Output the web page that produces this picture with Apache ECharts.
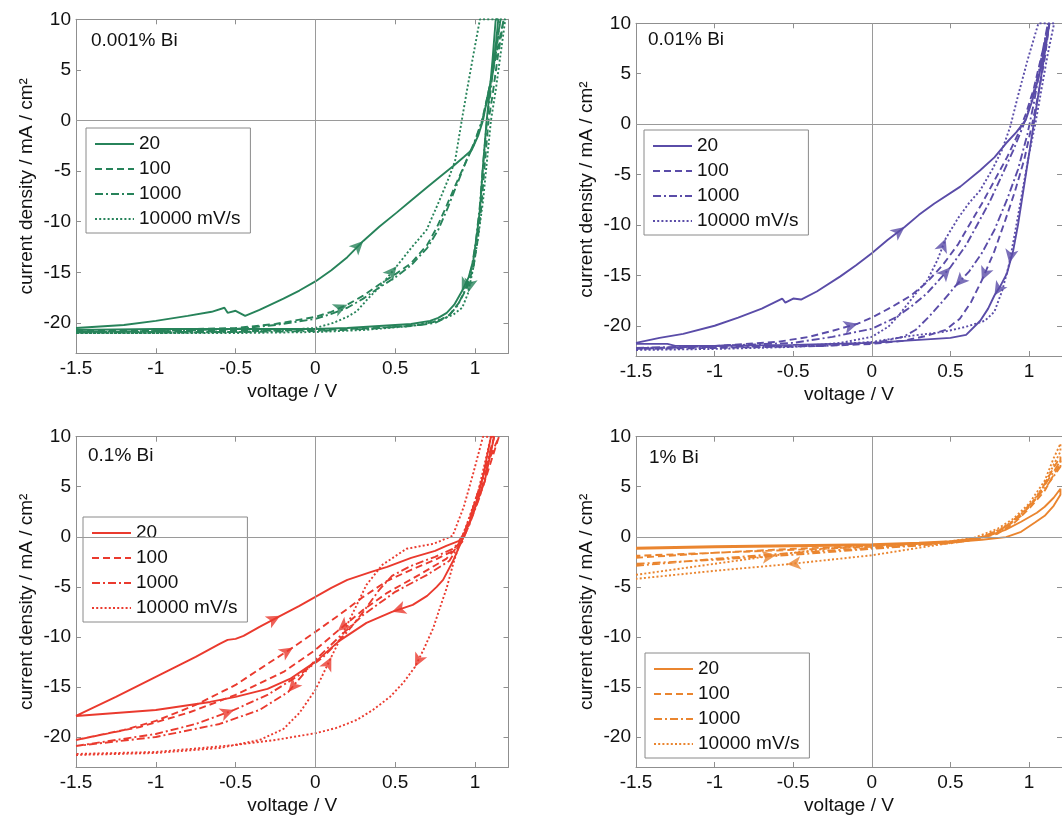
<!DOCTYPE html>
<html><head><meta charset="utf-8">
<script src="https://cdn.jsdelivr.net/npm/echarts@6/dist/echarts.min.js"></script>
<style>html,body{margin:0;padding:0;background:#fff}#c{width:1062px;height:816px}</style>
</head><body><div id="c"></div>
<script>
// ---------- tick labels / categories ----------
const xTicks = [-1.5, -1, -0.5, 0, 0.5, 1];
const yTicks = [-20, -15, -10, -5, 0, 5, 10];
const rateLabels = ['20', '100', '1000', '10000 mV/s'];
const rateKeys = ['20', '100', '1000', '10000'];
const panelLabels = ['0.001% Bi', '0.01% Bi', '0.1% Bi', '1% Bi'];

// ---------- panel 1: 0.001% Bi ----------
const a_20_f = [[-1.5,-20.5],[-1.3,-20.3],[-1.2,-20.2],[-1.0,-19.8],[-0.8,-19.3],[-0.65,-18.9],[-0.57,-18.5],[-0.55,-19.0],[-0.5,-18.8],[-0.44,-19.3],[-0.35,-18.7],[-0.2,-17.6],[-0.1,-16.8],[0,-15.9],[0.1,-14.8],[0.2,-13.5],[0.3,-11.9],[0.4,-10.5],[0.509,-9.1],[0.6,-7.9],[0.7,-6.6],[0.8,-5.3],[0.864,-4.5],[0.93,-3.6],[0.98,-2.9],[1.02,-1.5],[1.05,0],[1.08,2.5],[1.115,5],[1.146,10]];
const a_20_r = [[1.13,10],[1.11,6],[1.09,2.5],[1.073,0],[1.05,-4.5],[1.031,-8.8],[1.01,-11.5],[0.99,-13.75],[0.96,-15.5],[0.917,-16.9],[0.87,-18.2],[0.823,-19.0],[0.77,-19.5],[0.718,-19.8],[0.6,-20.1],[0.4,-20.3],[0.2,-20.5],[0,-20.6],[-0.5,-20.6],[-1.0,-20.6],[-1.5,-20.7]];
const a_100_f = [[-1.5,-20.8],[-1.0,-20.7],[-0.5,-20.5],[-0.25,-20.1],[0,-19.4],[0.1,-18.9],[0.2,-18.2],[0.3,-17.3],[0.4,-16.2],[0.5,-15.2],[0.6,-14.1],[0.7,-12.3],[0.76,-10.6],[0.82,-8.5],[0.88,-6.3],[0.94,-4.2],[0.99,-2.5],[1.04,-0.3],[1.08,2.5],[1.12,5.5],[1.16,8.5],[1.18,10]];
const a_100_r = [[1.18,10],[1.14,6],[1.11,2.5],[1.085,0],[1.06,-4.5],[1.04,-8.5],[1.015,-12],[0.99,-14.5],[0.95,-16.5],[0.9,-18.0],[0.84,-19.2],[0.77,-19.8],[0.65,-20.2],[0.4,-20.5],[0,-20.7],[-0.5,-20.8],[-1.0,-20.8],[-1.5,-20.8]];
const a_1000_f = [[-1.5,-20.9],[-1.0,-20.8],[-0.5,-20.6],[-0.25,-20.2],[0,-19.6],[0.1,-19.1],[0.2,-18.5],[0.3,-17.6],[0.4,-16.5],[0.5,-15.5],[0.6,-14.3],[0.7,-12.6],[0.77,-10.8],[0.83,-8.6],[0.89,-6.2],[0.95,-3.8],[1.0,-2.0],[1.05,0.3],[1.09,3],[1.13,6.5],[1.16,10]];
const a_1000_r = [[1.16,10],[1.12,6],[1.095,2.5],[1.075,0],[1.05,-4.5],[1.03,-8.5],[1.005,-12],[0.98,-14.5],[0.94,-16.7],[0.89,-18.3],[0.83,-19.4],[0.75,-20.0],[0.6,-20.3],[0.3,-20.6],[0,-20.8],[-0.5,-20.9],[-1.0,-20.9],[-1.5,-20.9]];
const a_10000_f = [[-1.5,-21.0],[-1.0,-21.0],[-0.5,-20.9],[-0.2,-20.7],[0,-20.5],[0.112,-20.0],[0.2,-19.4],[0.259,-18.85],[0.33,-17.6],[0.405,-16.4],[0.509,-14.4],[0.6,-12.6],[0.697,-10.8],[0.78,-7.8],[0.84,-5.5],[0.875,-4.0],[0.917,0],[0.95,3],[0.99,6.5],[1.031,10]];
const a_10000_r = [[1.19,10],[1.16,6.5],[1.13,3],[1.1,0],[1.075,-4],[1.05,-8],[1.02,-11.5],[0.99,-14.5],[0.958,-17.0],[0.92,-18.5],[0.862,-19.2],[0.76,-19.8],[0.6,-20.3],[0.3,-20.7],[0,-20.9],[-0.5,-21.0],[-1.0,-21.0],[-1.5,-21.0]];
const a_arrows = [['20','f',0.30,-11.9],['100','f',0.2,-18.2],['10000','f',0.509,-14.4],['20','r',0.917,-16.9],['10000','r',0.958,-17.0]];

// ---------- panel 2: 0.01% Bi ----------
const b_20_f = [[-1.5,-21.7],[-1.35,-21.2],[-1.2,-20.8],[-1.0,-20.0],[-0.85,-19.2],[-0.7,-18.3],[-0.57,-17.3],[-0.55,-17.7],[-0.5,-17.3],[-0.45,-17.4],[-0.35,-16.6],[-0.2,-15.1],[-0.1,-14.0],[0,-12.8],[0.1,-11.5],[0.209,-10.2],[0.3,-9.0],[0.396,-7.9],[0.563,-6.2],[0.688,-4.6],[0.78,-3.3],[0.854,-1.9],[0.92,-0.8],[0.979,0.4],[1.02,2.3],[1.062,4.7],[1.095,7.2],[1.13,10]];
const b_20_r = [[1.13,10],[1.1,7],[1.07,4],[1.04,1],[1.01,-2],[0.97,-6],[0.93,-10],[0.9,-12.5],[0.86,-14.8],[0.82,-16.0],[0.78,-17.0],[0.74,-18.3],[0.69,-19.5],[0.6,-20.9],[0.5,-21.2],[0.3,-21.4],[0,-21.7],[-0.5,-21.9],[-1.0,-22.0],[-1.25,-22.0],[-1.3,-21.8],[-1.5,-21.8]];
const b_100_f = [[-1.5,-22.3],[-1.0,-22.0],[-0.6,-21.6],[-0.4,-21.1],[-0.25,-20.5],[-0.09,-19.8],[0,-19.2],[0.12,-18.2],[0.25,-17.0],[0.35,-15.7],[0.45,-14.0],[0.55,-11.9],[0.62,-10.0],[0.7,-7.9],[0.78,-5.6],[0.86,-3.3],[0.93,-1.0],[0.98,1],[1.03,3.5],[1.08,6.8],[1.13,10]];
const b_100_r = [[1.14,10],[1.1,6.5],[1.06,3],[1.02,0],[0.97,-3.5],[0.91,-6.7],[0.85,-9.5],[0.78,-12.6],[0.7,-15.5],[0.63,-17.7],[0.56,-19.3],[0.47,-20.4],[0.35,-21.0],[0.2,-21.5],[0,-21.8],[-0.3,-22.0],[-1.0,-22.2],[-1.5,-22.3]];
const b_1000_f = [[-1.5,-22.2],[-1.0,-22.0],[-0.5,-21.7],[-0.25,-21.1],[0,-20.3],[0.15,-19.2],[0.25,-18.1],[0.35,-16.8],[0.5,-14.2],[0.6,-12.0],[0.67,-10.0],[0.75,-7.7],[0.83,-5.0],[0.9,-2.6],[0.96,-0.3],[1.01,2],[1.06,5],[1.12,10]];
const b_1000_r = [[1.12,10],[1.07,5.5],[1.03,2],[0.99,-1],[0.93,-4.5],[0.86,-7.5],[0.78,-10.5],[0.7,-12.8],[0.62,-14.6],[0.53,-16.1],[0.45,-17.6],[0.37,-19.0],[0.28,-20.4],[0.2,-21.1],[0.05,-21.6],[-0.3,-22.0],[-1.0,-22.1],[-1.5,-22.2]];
const b_10000_f = [[-1.5,-22.4],[-1.0,-22.3],[-0.5,-22.1],[-0.2,-21.7],[0,-21.1],[0.105,-20.1],[0.17,-19.0],[0.23,-17.8],[0.29,-16.6],[0.353,-15.5],[0.42,-13.4],[0.47,-11.35],[0.55,-9.3],[0.62,-7.8],[0.688,-6.6],[0.77,-4.4],[0.83,-2.5],[0.88,-0.3],[0.93,2.8],[0.99,6.3],[1.06,10]];
const b_10000_r = [[1.16,10],[1.12,7],[1.08,3.5],[1.04,0],[1.0,-3],[0.96,-6.5],[0.92,-10],[0.875,-13.8],[0.83,-16.5],[0.78,-18.6],[0.72,-19.5],[0.6,-20.1],[0.459,-20.6],[0.25,-21.0],[0,-21.6],[-0.5,-22.1],[-1.0,-22.3],[-1.5,-22.4]];
const b_arrows = [['20','f',0.209,-10.2],['100','f',-0.09,-19.8],['1000','f',0.5,-14.2],['10000','f',0.47,-11.35],['20','r',0.78,-17.0],['100','r',0.70,-15.5],['1000','r',0.53,-16.1],['10000','r',0.875,-13.8]];

// ---------- panel 3: 0.1% Bi ----------
const c_20_f = [[-1.5,-17.9],[-1.25,-16.0],[-1.0,-14.0],[-0.75,-12.0],[-0.6,-10.7],[-0.55,-10.3],[-0.5,-10.2],[-0.45,-9.9],[-0.35,-9.0],[-0.22,-7.9],[-0.1,-6.9],[0,-6.0],[0.1,-5.1],[0.2,-4.3],[0.35,-3.5],[0.45,-3.0],[0.6,-2.1],[0.75,-1.4],[0.82,-0.9],[0.9,-0.4],[0.95,0.8],[1.0,3],[1.05,6],[1.1,10]];
const c_20_r = [[1.12,10],[1.06,5.5],[0.98,2],[0.92,-0.3],[0.86,-2.5],[0.8,-4.3],[0.76,-5.0],[0.7,-5.9],[0.61,-6.8],[0.48,-7.5],[0.32,-8.6],[0.15,-10.4],[0,-12.5],[-0.16,-14.2],[-0.3,-15.2],[-0.5,-16.0],[-0.66,-16.5],[-1.0,-17.3],[-1.5,-17.9]];
const c_100_f = [[-1.5,-20.3],[-1.2,-19.3],[-1.0,-18.4],[-0.75,-16.8],[-0.5,-14.8],[-0.3,-12.7],[-0.14,-11.05],[0,-9.5],[0.15,-7.8],[0.3,-6.0],[0.45,-4.4],[0.6,-3.3],[0.75,-2.3],[0.85,-1.5],[0.91,-0.5],[0.97,2],[1.07,7],[1.15,10]];
const c_100_r = [[1.15,10],[1.05,5],[0.97,1.5],[0.92,-0.5],[0.82,-2.2],[0.65,-3.8],[0.45,-5.6],[0.3,-7.3],[0.14,-9.4],[0,-11.3],[-0.2,-13.5],[-0.5,-15.8],[-0.8,-17.6],[-1.1,-19.0],[-1.5,-20.3]];
const c_1000_f = [[-1.5,-20.9],[-1.0,-19.7],[-0.75,-18.7],[-0.51,-17.3],[-0.3,-15.8],[-0.1,-13.8],[0.05,-12.0],[0.2,-9.5],[0.3,-7.5],[0.4,-5.3],[0.48,-3.9],[0.6,-2.9],[0.75,-2.0],[0.86,-1.2],[0.92,-0.3],[0.98,2.5],[1.05,6],[1.12,10]];
const c_1000_r = [[1.13,10],[1.03,4],[0.96,1],[0.91,-0.6],[0.84,-2.4],[0.7,-3.8],[0.5,-5.5],[0.3,-7.8],[0.15,-10.0],[0,-12.3],[-0.17,-15.5],[-0.35,-17.3],[-0.6,-18.7],[-1.0,-20.0],[-1.5,-20.9]];
const c_10000_f = [[-1.5,-21.8],[-1.0,-21.6],[-0.6,-21.1],[-0.35,-20.3],[-0.2,-19.2],[-0.1,-17.6],[0.0,-15.3],[0.1,-12.0],[0.22,-8.1],[0.32,-4.8],[0.42,-2.8],[0.57,-1.2],[0.74,-0.7],[0.86,0.1],[0.93,3],[0.99,6.4],[1.05,10]];
const c_10000_r = [[1.1,10],[1.02,4.5],[0.95,1.3],[0.906,-0.53],[0.865,-2.6],[0.823,-5.1],[0.78,-7.1],[0.739,-9.1],[0.68,-11.2],[0.624,-13.0],[0.55,-14.6],[0.467,-16.0],[0.36,-17.3],[0.259,-18.3],[0.13,-19.1],[0.008,-19.6],[-0.25,-20.3],[-0.5,-20.8],[-1.0,-21.5],[-1.5,-21.7]];
const c_arrows = [['20','f',-0.22,-7.9],['20','r',0.48,-7.5],['100','f',-0.14,-11.05],['100','r',0.14,-9.4],['1000','f',-0.51,-17.3],['1000','r',-0.17,-15.5],['10000','f',0.1,-12.0],['10000','r',0.624,-13.0]];

// ---------- panel 4: 1% Bi ----------
const d_20_f = [[-1.5,-1.1],[-1.0,-0.95],[-0.5,-0.85],[0,-0.75],[0.3,-0.6],[0.5,-0.45],[0.65,-0.2],[0.75,0.15],[0.85,0.7],[0.95,1.5],[1.05,2.4],[1.1,3.0],[1.157,3.9],[1.2,4.8]];
const d_20_r = [[1.2,4.2],[1.157,3.1],[1.1,2.1],[1.04,1.45],[0.95,0.5],[0.854,-0.03],[0.7,-0.3],[0.5,-0.55],[0,-0.85],[-0.5,-0.95],[-1.0,-1.05],[-1.5,-1.2]];
const d_100_f = [[-1.5,-2.1],[-1.0,-1.6],[-0.5,-1.2],[0,-0.9],[0.5,-0.55],[0.7,-0.05],[0.85,0.9],[0.95,2.1],[1.05,3.9],[1.157,6.9],[1.2,8]];
const d_100_r = [[1.2,7.3],[1.157,6.2],[1.1,4.6],[1.0,2.8],[0.9,1.3],[0.8,0.3],[0.65,-0.3],[0.5,-0.6],[0,-1.0],[-0.5,-1.3],[-1.0,-1.6],[-1.5,-1.9]];
const d_1000_f = [[-1.5,-2.9],[-1.0,-2.2],[-0.5,-1.6],[0,-1.1],[0.5,-0.6],[0.7,-0.05],[0.85,1],[0.95,2.3],[1.05,4],[1.157,6.5],[1.2,7.6]];
const d_1000_r = [[1.2,7.0],[1.157,6.05],[1.1,4.8],[1.0,3.1],[0.9,1.6],[0.8,0.5],[0.65,-0.3],[0.5,-0.65],[0,-1.2],[-0.5,-1.8],[-1.0,-2.3],[-1.5,-2.7]];
const d_10000_f = [[-1.5,-3.8],[-1.0,-2.7],[-0.61,-1.84],[-0.3,-1.2],[0,-0.9],[0.3,-0.7],[0.5,-0.45],[0.65,-0.1],[0.8,0.8],[0.9,1.8],[1.0,3.3],[1.1,5.6],[1.157,7.85],[1.2,9.3]];
const d_10000_r = [[1.2,8.5],[1.157,7.2],[1.1,5.2],[1.0,3.0],[0.9,1.6],[0.8,0.6],[0.7,0],[0.55,-0.5],[0.4,-0.85],[0.2,-1.35],[0,-1.85],[-0.54,-2.75],[-1.0,-3.4],[-1.5,-4.2]];
const d_arrows = [['10000','f',-0.61,-1.84],['10000','r',-0.54,-2.75]];

// ---------- assembly ----------
const panelCurves = [
  {'20':{f:a_20_f,r:a_20_r},'100':{f:a_100_f,r:a_100_r},'1000':{f:a_1000_f,r:a_1000_r},'10000':{f:a_10000_f,r:a_10000_r}},
  {'20':{f:b_20_f,r:b_20_r},'100':{f:b_100_f,r:b_100_r},'1000':{f:b_1000_f,r:b_1000_r},'10000':{f:b_10000_f,r:b_10000_r}},
  {'20':{f:c_20_f,r:c_20_r},'100':{f:c_100_f,r:c_100_r},'1000':{f:c_1000_f,r:c_1000_r},'10000':{f:c_10000_f,r:c_10000_r}},
  {'20':{f:d_20_f,r:d_20_r},'100':{f:d_100_f,r:d_100_r},'1000':{f:d_1000_f,r:d_1000_r},'10000':{f:d_10000_f,r:d_10000_r}}
];
const panelArrows = [a_arrows, b_arrows, c_arrows, d_arrows];

// styles & layout
const colors = ['#27835a', '#5a4ca8', '#ea3a2e', '#ea852f'];
const dashTypes = ['solid', [7, 4], [8, 3, 2, 3], [2, 2.2]];
const FONT = "'Liberation Sans', Arial, Helvetica, sans-serif";
const AX = '#8f8f8f';
const FS = 19;
const grids = [
  {left: 76, top: 19.3, width: 432.5, height: 334},
  {left: 636, top: 23.3, width: 434.4, height: 332.7},
  {left: 76, top: 436.7, width: 432.5, height: 334},
  {left: 636, top: 436.7, width: 434.4, height: 334}
];
const legendPos = [[86, 128], [644, 130], [83, 517], [645, 653]];
const titlePos = [[91, 31], [648, 30], [88, 446], [649, 448]];

const xAxes = [], yAxes = [], series = [], legends = [], titles = [];
const nameToLabel = {};
const seriesIndexOf = {};
grids.forEach((g, i) => {
  const common = {type: 'value', gridIndex: i, min: -1.5, max: 1.21, splitLine: {show: false}};
  xAxes.push(Object.assign({}, common, {
    position: 'bottom',
    axisLine: {show: true, onZero: false, lineStyle: {color: AX, width: 1}},
    axisTick: {show: true, inside: true, length: 5, customValues: xTicks, lineStyle: {color: AX}},
    axisLabel: {show: true, customValues: xTicks, color: '#111', fontSize: FS, fontFamily: FONT, margin: 6, formatter: v => String(v)},
    name: 'voltage / V', nameLocation: 'middle', nameGap: 29,
    nameTextStyle: {color: '#111', fontSize: FS, fontFamily: FONT}
  }));
  xAxes.push(Object.assign({}, common, {
    position: 'top',
    axisLine: {show: true, onZero: false, lineStyle: {color: AX, width: 1}},
    axisTick: {show: true, inside: true, length: 5, customValues: xTicks, lineStyle: {color: AX}},
    axisLabel: {show: false}
  }));
  const ycommon = {type: 'value', gridIndex: i, min: -23, max: 10, splitLine: {show: false}};
  yAxes.push(Object.assign({}, ycommon, {
    position: 'left',
    axisLine: {show: true, onZero: false, lineStyle: {color: AX, width: 1}},
    axisTick: {show: true, inside: true, length: 5, customValues: yTicks, lineStyle: {color: AX}},
    axisLabel: {show: true, customValues: yTicks, color: '#111', fontSize: FS, fontFamily: FONT, margin: 5, formatter: v => String(v)},
    name: 'current density / mA / cm²', nameLocation: 'middle', nameGap: 40,
    nameTextStyle: {color: '#111', fontSize: FS, fontFamily: FONT}
  }));
  yAxes.push(Object.assign({}, ycommon, {
    position: 'right',
    axisLine: {show: true, onZero: false, lineStyle: {color: AX, width: 1}},
    axisTick: {show: true, inside: true, length: 5, customValues: yTicks, lineStyle: {color: AX}},
    axisLabel: {show: false}
  }));

  // zero reference lines
  series.push({
    type: 'line', xAxisIndex: 2 * i, yAxisIndex: 2 * i, data: [], z: 1, silent: true,
    markLine: {silent: true, symbol: 'none', animation: false, label: {show: false},
      lineStyle: {color: '#9a9a9a', width: 1, type: 'solid'},
      data: [{xAxis: 0}, {yAxis: 0}]}
  });

  const names = [];
  rateKeys.forEach((rk, k) => {
    const nm = 'p' + i + '_' + rk;
    names.push(nm);
    nameToLabel[nm] = rateLabels[k];
    const cv = panelCurves[i][rk];
    seriesIndexOf[nm] = series.length;
    series.push({
      type: 'line', name: nm, xAxisIndex: 2 * i, yAxisIndex: 2 * i,
      data: cv.f.concat(cv.r), symbol: 'none', showSymbol: false, smooth: false,
      clip: true, z: 3, silent: true, animation: false,
      lineStyle: {color: colors[i], width: 1.9, type: dashTypes[k]},
      itemStyle: {color: colors[i]}
    });
  });
  series.push({
    id: 'arrows' + i, type: 'scatter', xAxisIndex: 2 * i, yAxisIndex: 2 * i,
    symbol: 'arrow', symbolSize: [10, 14], z: 4, silent: true, animation: false,
    itemStyle: {color: colors[i]},
    data: panelArrows[i].map(a => ({value: [a[2], a[3]]}))
  });

  legends.push({
    data: names, orient: 'vertical', left: legendPos[i][0], top: legendPos[i][1],
    itemWidth: 39, itemHeight: 14, itemGap: 5, padding: [6, 10, 4, 8],
    borderColor: '#8a8a8a', borderWidth: 1, borderRadius: 0, backgroundColor: '#fff',
    selectedMode: false, formatter: n => nameToLabel[n],
    itemStyle: {opacity: 0, color: 'rgba(0,0,0,0)', borderWidth: 0},
    textStyle: {color: '#111', fontSize: FS, fontFamily: FONT, lineHeight: 20}
  });
  titles.push({
    text: panelLabels[i], left: titlePos[i][0], top: titlePos[i][1], padding: 0,
    textStyle: {color: '#111', fontSize: FS, fontWeight: 'normal', fontFamily: FONT}
  });
});

const chart = echarts.init(document.getElementById('c'), null, {renderer: 'canvas'});
chart.setOption({
  animation: false, backgroundColor: '#fff',
  title: titles, legend: legends, grid: grids,
  xAxis: xAxes, yAxis: yAxes, series: series
});

// orient arrowheads along the scan direction of their branch
const upd = [];
panelArrows.forEach((arr, i) => {
  const data = arr.map(a => {
    const branch = panelCurves[i][a[0]][a[1]];
    const sIdx = seriesIndexOf['p' + i + '_' + a[0]];
    const p = chart.convertToPixel({seriesIndex: sIdx}, [a[2], a[3]]);
    let best = Infinity, dir = [1, 0];
    for (let k = 0; k < branch.length - 1; k++) {
      const p0 = chart.convertToPixel({seriesIndex: sIdx}, branch[k]);
      const p1 = chart.convertToPixel({seriesIndex: sIdx}, branch[k + 1]);
      const dx = p1[0] - p0[0], dy = p1[1] - p0[1];
      const L2 = dx * dx + dy * dy || 1;
      let t = ((p[0] - p0[0]) * dx + (p[1] - p0[1]) * dy) / L2;
      t = Math.max(0, Math.min(1, t));
      const qx = p0[0] + t * dx - p[0], qy = p0[1] + t * dy - p[1];
      const d = qx * qx + qy * qy;
      if (d < best) { best = d; dir = [dx, dy]; }
    }
    const rot = Math.atan2(-dir[1], dir[0]) * 180 / Math.PI - 90;
    return {value: [a[2], a[3]], symbolRotate: rot};
  });
  upd.push({id: 'arrows' + i, data: data});
});
chart.setOption({series: upd});
</script></body></html>
